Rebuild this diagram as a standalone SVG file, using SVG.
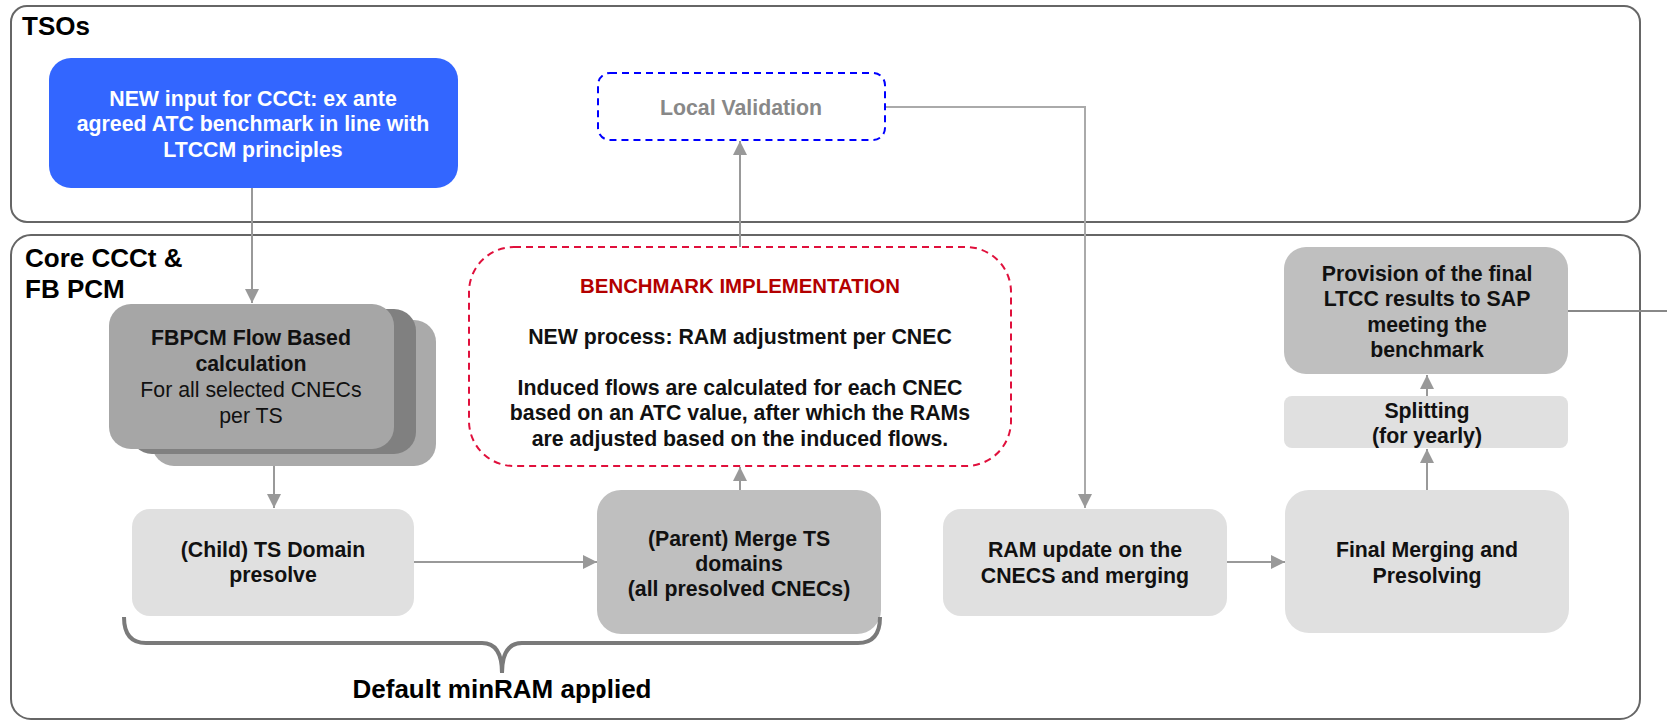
<svg xmlns="http://www.w3.org/2000/svg" width="1667" height="721" viewBox="0 0 1667 721">
<style>
text{font-family:"Liberation Sans",Arial,sans-serif;text-anchor:middle}
.b{font-weight:bold;font-size:21.3px;fill:#111}
.r{font-size:21.3px;fill:#111}
.lbl{font-weight:bold;font-size:26px;fill:#000;text-anchor:start}
.cont{fill:#fff;stroke:#666;stroke-width:2}
.con{fill:none;stroke:#999;stroke-width:2}
.lt{fill:#e0e0e0}
.md{fill:#bfbfbf}
</style>
<defs>
<marker id="arr" viewBox="0 0 14 14" refX="14" refY="7" markerWidth="14" markerHeight="14" orient="auto" markerUnits="userSpaceOnUse"><path d="M0,0 L14,7 L0,14 z" fill="#999"/></marker>
</defs>
<g id="tsos">
<rect class="cont" x="11" y="6" width="1629" height="216" rx="16"/>
<text class="lbl" x="22" y="35">TSOs</text>
</g>
<g id="core">
<rect class="cont" x="11" y="235" width="1629" height="484" rx="20"/>
<text class="lbl" x="25" y="267">Core CCCt &amp;</text>
<text class="lbl" x="25" y="298">FB PCM</text>
</g>
<g id="connectors">
<line class="con" x1="252" y1="188" x2="252" y2="303" marker-end="url(#arr)"/>
<line class="con" x1="274" y1="466" x2="274" y2="508" marker-end="url(#arr)"/>
<line class="con" x1="414" y1="562" x2="597" y2="562" marker-end="url(#arr)"/>
<line class="con" x1="740" y1="490" x2="740" y2="467" marker-end="url(#arr)"/>
<line class="con" x1="740" y1="247" x2="740" y2="141" marker-end="url(#arr)"/>
<polyline class="con" style="stroke:#aaa" points="885,107 1085,107 1085,508" marker-end="url(#arr)"/>
<line class="con" x1="1227" y1="562" x2="1285" y2="562" marker-end="url(#arr)"/>
<line class="con" x1="1427" y1="490" x2="1427" y2="449" marker-end="url(#arr)"/>
<line class="con" x1="1427" y1="396" x2="1427" y2="375" marker-end="url(#arr)"/>
<line class="con" style="stroke:#888" x1="1568" y1="311" x2="1667" y2="311"/>
</g>
<g id="new-input">
<rect x="49" y="58" width="409" height="130" rx="22" fill="#3366ff"/>
<text class="b" style="fill:#fff" x="253" y="106">NEW input for CCCt: ex ante</text>
<text class="b" style="fill:#fff" x="253" y="131">agreed ATC benchmark in line with</text>
<text class="b" style="fill:#fff" x="253" y="157">LTCCM principles</text>
</g>
<g id="local-validation">
<rect x="598" y="73" width="287" height="67" rx="12" fill="#fff" stroke="#0000ff" stroke-width="2" stroke-dasharray="7,5"/>
<text class="b" style="fill:#888" x="741" y="115">Local Validation</text>
</g>
<g id="fbpcm">
<rect x="152" y="320" width="284" height="146" rx="22" fill="#aaaaaa"/>
<rect x="130" y="309" width="286" height="145" rx="22" fill="#808080"/>
<rect x="109" y="304" width="285" height="145" rx="22" fill="#a6a6a6"/>
<text class="b" x="251" y="345">FBPCM Flow Based</text>
<text class="b" x="251" y="371">calculation</text>
<text class="r" x="251" y="397">For all selected CNECs</text>
<text class="r" x="251" y="423">per TS</text>
</g>
<g id="benchmark">
<rect x="469" y="247" width="542" height="219" rx="45" fill="#fff" stroke="#e0103c" stroke-width="2" stroke-dasharray="7,5"/>
<text class="b" style="fill:#b30000;font-size:20.4px" x="740" y="293">BENCHMARK IMPLEMENTATION</text>
<text class="b" x="740" y="344">NEW process: RAM adjustment per CNEC</text>
<text class="b" x="740" y="395">Induced flows are calculated for each CNEC</text>
<text class="b" x="740" y="420">based on an ATC value, after which the RAMs</text>
<text class="b" x="740" y="446">are adjusted based on the induced flows.</text>
</g>
<g id="child">
<rect class="lt" x="132" y="509" width="282" height="107" rx="18"/>
<text class="b" x="273" y="557">(Child) TS Domain</text>
<text class="b" x="273" y="582">presolve</text>
</g>
<g id="parent">
<rect class="md" x="597" y="490" width="284" height="144" rx="24"/>
<text class="b" x="739" y="546">(Parent) Merge TS</text>
<text class="b" x="739" y="571">domains</text>
<text class="b" x="739" y="596">(all presolved CNECs)</text>
</g>
<g id="ram-update">
<rect class="lt" x="943" y="509" width="284" height="107" rx="18"/>
<text class="b" x="1085" y="557">RAM update on the</text>
<text class="b" x="1085" y="583">CNECS and merging</text>
</g>
<g id="final-merging">
<rect class="lt" x="1285" y="490" width="284" height="143" rx="24"/>
<text class="b" x="1427" y="557">Final Merging and</text>
<text class="b" x="1427" y="583">Presolving</text>
</g>
<g id="splitting">
<rect class="lt" x="1284" y="396" width="284" height="52" rx="8"/>
<text class="b" x="1427" y="418">Splitting</text>
<text class="b" x="1427" y="443">(for yearly)</text>
</g>
<g id="provision">
<rect class="md" x="1284" y="247" width="284" height="127" rx="22"/>
<text class="b" x="1427" y="281">Provision of the final</text>
<text class="b" x="1427" y="306">LTCC results to SAP</text>
<text class="b" x="1427" y="332">meeting the</text>
<text class="b" x="1427" y="357">benchmark</text>
</g>
<g id="brace">
<path d="M124,617 Q124,643 146,643 L482,643 Q502,643 502,673 Q502,643 522,643 L858,643 Q880,643 880,617" fill="none" stroke="#7a7a7a" stroke-width="4"/>
<text style="font-weight:bold;font-size:26px;fill:#000" x="502" y="698">Default minRAM applied</text>
</g>
</svg>
